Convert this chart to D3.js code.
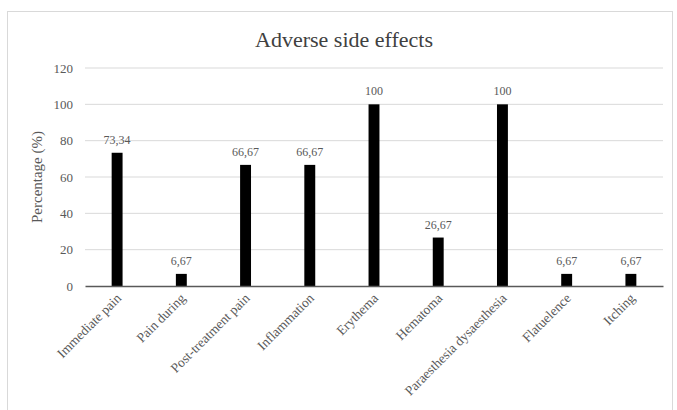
<!DOCTYPE html>
<html><head><meta charset="utf-8">
<script src="https://cdn.jsdelivr.net/npm/d3@7"></script>
<style>body{margin:0;background:#fff}</style>
</head><body>
<svg id="c" width="677" height="410"></svg>
<script>
const categories = ["Immediate pain","Pain during","Post-treatment pain","Inflammation","Erythema","Hematoma","Paraesthesia dysaesthesia","Flatuelence","Itching"];
const values = [73.34, 6.67, 66.67, 66.67, 100, 26.67, 100, 6.67, 6.67];
const valueLabels = ["73,34","6,67","66,67","66,67","100","26,67","100","6,67","6,67"];
const yTicks = [0,20,40,60,80,100,120];

const svg = d3.select("#c");
const font = "'Liberation Serif', 'Times New Roman', serif";
svg.append("rect").attr("x",7.5).attr("y",11.5).attr("width",665).attr("height",410).attr("fill","#fff").attr("stroke","#d9d9d9");

const x = d3.scaleBand().domain(categories).range([85,663]).paddingInner(0.83).paddingOuter(0.415);
const y = d3.scaleLinear().domain([0,120]).range([286,68]);

// grid
svg.append("g").selectAll("line").data(yTicks.filter(d=>d>0)).join("line")
  .attr("x1",85).attr("x2",663).attr("y1",d=>y(d)).attr("y2",d=>y(d))
  .attr("stroke","#d9d9d9").attr("stroke-width",1);

// y axis labels
const ya = svg.append("g").attr("transform","translate(79,0)")
  .call(d3.axisLeft(y).tickValues(yTicks).tickSize(0).tickPadding(6));
ya.select(".domain").remove();
ya.selectAll("text").attr("font-family",font).attr("font-size",13).attr("fill","#595959");

// bars
svg.append("g").selectAll("rect").data(values).join("rect")
  .attr("x",(d,i)=>x(categories[i])).attr("width",x.bandwidth())
  .attr("y",d=>y(d)).attr("height",d=>y(0)-y(d)).attr("fill","#000");

// x axis
const xa = svg.append("g").attr("transform",`translate(0,${y(0)})`)
  .call(d3.axisBottom(x).tickSize(0).tickPadding(0));
xa.select(".domain").attr("stroke","#595959").attr("stroke-width",1.5);
xa.selectAll("text").attr("font-family",font).attr("font-size",13.5).attr("fill","#595959")
  .attr("text-anchor","end").attr("dy",0)
  .attr("transform","translate(5,13) rotate(-45)");

// value labels
svg.append("g").selectAll("text").data(values).join("text")
  .attr("x",(d,i)=>x(categories[i])+x.bandwidth()/2).attr("y",d=>y(d)-9)
  .attr("text-anchor","middle").attr("font-family",font).attr("font-size",12).attr("fill","#595959")
  .text((d,i)=>valueLabels[i]);

// title
svg.append("text").attr("x",344).attr("y",47).attr("text-anchor","middle")
  .attr("font-family",font).attr("font-size",22).attr("fill","#404040").text("Adverse side effects");

// y title
svg.append("text").attr("transform","translate(42,177) rotate(-90)").attr("text-anchor","middle")
  .attr("font-family",font).attr("font-size",15).attr("fill","#595959").text("Percentage (%)");
</script>
</body></html>
